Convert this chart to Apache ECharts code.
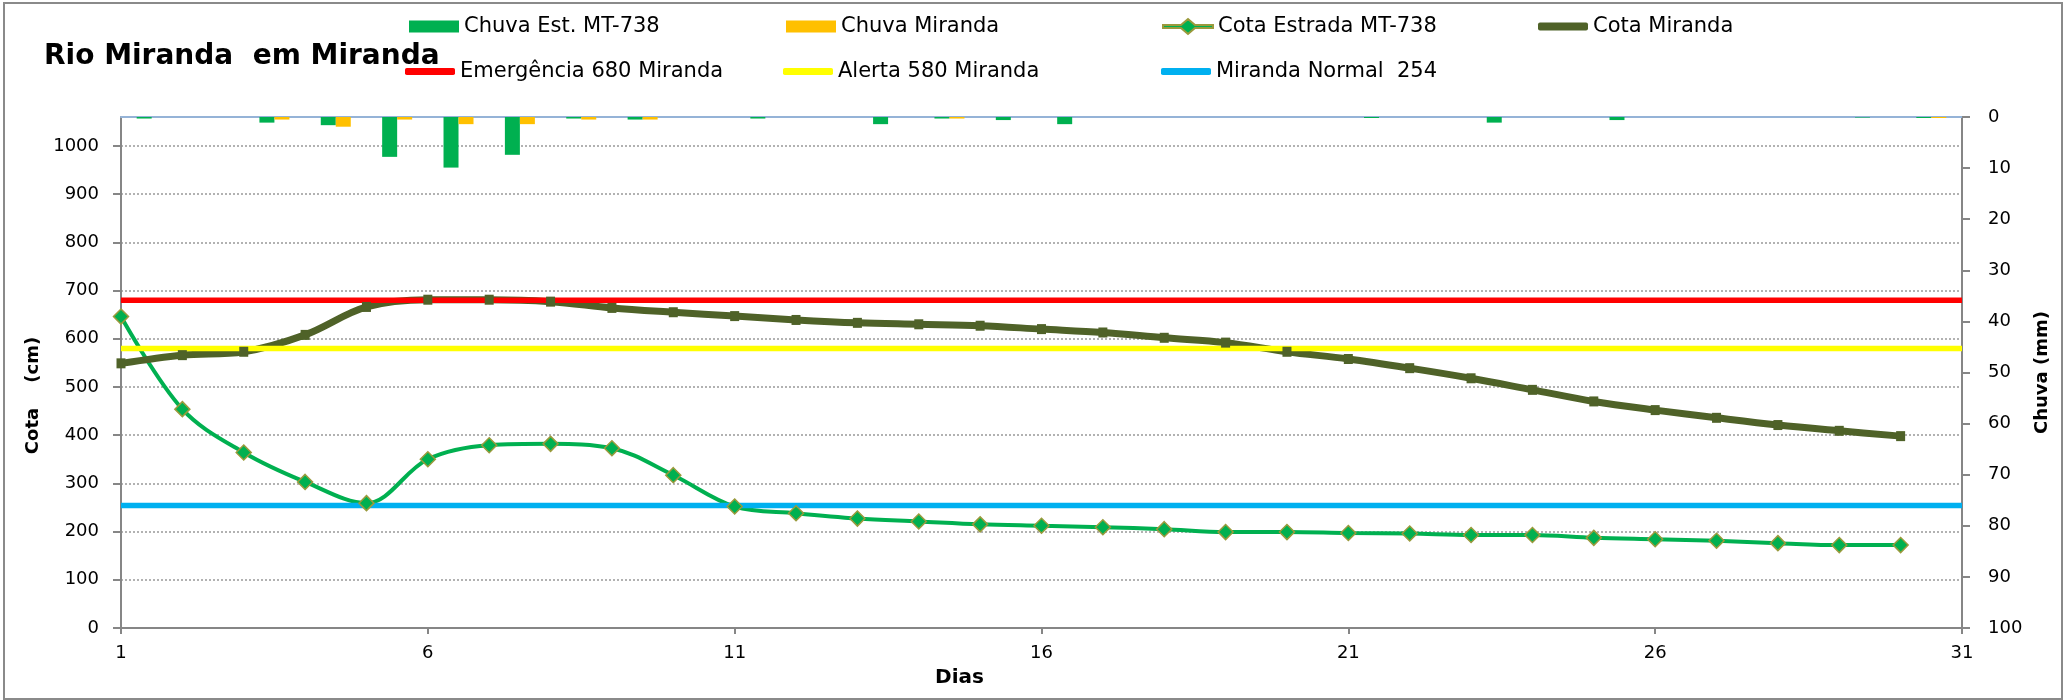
<!DOCTYPE html>
<html>
<head>
<meta charset="utf-8">
<script src="https://cdn.jsdelivr.net/npm/echarts@6/dist/echarts.min.js"></script>
<style>html,body{margin:0;padding:0;background:#fff}#c{width:2067px;height:700px}</style>
</head>
<body>
<div id="c"></div>
<script>
// ---- data ----
const days = ['1','2','3','4','5','6','7','8','9','10','11','12','13','14','15','16','17','18','19','20','21','22','23','24','25','26','27','28','29','30','31'];
const rainDays = ['1','2','3','4','5','6','7','8','9','10','11','12','13','14','15','16','17','18','19','20','21','22','23','24','25','26','27','28','29','30'];
const chuvaEstMT738 = [0.3,0,1.1,1.6,7.8,9.9,7.4,0.3,0.5,0,0.3,0,1.4,0.3,0.6,1.4,0,0,0,0,0.2,0,1.1,0,0.6,0,0,0,0.1,0.2];
const chuvaMiranda  = [0,0,0.5,1.9,0.5,1.4,1.4,0.5,0.5,0,0,0,0,0.3,0,0,0,0,0,0,0,0,0,0,0,0,0,0,0,0.2];
const cotaEstradaMT738 = [646,454,364,303,259,350,379,382,373,317,252,238,227,221,215,212,209,205,199,199,197,196,193,193,187,184,181,176,172,172];
const cotaMiranda = [549,566,573,608,666,681,681,677,664,655,647,639,633,630,627,620,613,602,592,573,558,539,518,494,470,452,436,421,409,398];
const emergencia = [[0,680],[30,680]];
const alerta = [[0,580],[30,580]];
const normal = [[0,254],[30,254]];

const FF = 'DejaVu Sans';
const chart = echarts.init(document.getElementById('c'), null, {renderer:'canvas'});

function lg(name, left, top, extra){
  return Object.assign({data:[name], left:left, top:top, itemWidth:50, itemHeight:14,
    textStyle:{fontFamily:FF, fontSize:21, color:'#000'}, padding:0, selectedMode:false, itemGap:4}, extra||{});
}
const diamondLineIcon = 'path://M0,6L18,6L25,0L32,6L50,6L50,9L32,9L25,15L18,9L0,9Z';
const thickLineIcon = 'roundRect';

chart.setOption({
  animation:false,
  backgroundColor:'#fff',
  title:{text:'Rio Miranda  em Miranda', left:39, top:38,
    textStyle:{fontFamily:FF, fontSize:28, fontWeight:'bold', color:'#000'}},
  legend:[
    lg('Chuva Est. MT-738', 409, 16, {icon:'rect', itemHeight:12}),
    lg('Chuva Miranda', 786, 16, {icon:'rect', itemHeight:12}),
    lg('Cota Estrada MT-738', 1162, 16, {icon:diamondLineIcon, itemHeight:15}),
    lg('Cota Miranda', 1538, 16, {icon:thickLineIcon, itemHeight:8}),
    lg('Emergência 680 Miranda', 405, 61, {icon:thickLineIcon, itemHeight:7}),
    lg('Alerta 580 Miranda', 783, 61, {icon:thickLineIcon, itemHeight:7}),
    lg('Miranda Normal  254', 1161, 61, {icon:thickLineIcon, itemHeight:7})
  ],
  graphic:[{type:'rect', shape:{x:4,y:3,width:2058,height:696}, style:{fill:'none', stroke:'#8a8a8a', lineWidth:2}, silent:true}],
  grid:{left:121, right:105, top:117, bottom:72, containLabel:false},
  xAxis:[
    {type:'category', data:days, boundaryGap:false,
      axisLine:{onZero:false, lineStyle:{color:'#868686', width:2}},
      axisTick:{interval:4, length:6, lineStyle:{color:'#868686', width:2}},
      axisLabel:{interval:4, margin:16, fontFamily:FF, fontSize:18, color:'#000'},
      splitLine:{show:false},
      name:'Dias', nameLocation:'middle', nameGap:40,
      nameTextStyle:{fontFamily:FF, fontSize:20, fontWeight:'bold', color:'#000', padding:[0,164,0,0]}},
    {type:'category', data:rainDays, boundaryGap:true, position:'top',
      axisLine:{onZero:false, lineStyle:{color:'#95B3D7', width:2}},
      axisTick:{show:false}, axisLabel:{show:false}, splitLine:{show:false}}
  ],
  yAxis:[
    {type:'value', min:0, max:1060, interval:100, position:'left',
      axisLine:{show:true, onZero:false, lineStyle:{color:'#868686', width:2}},
      axisTick:{show:true, length:8, lineStyle:{color:'#868686', width:2}},
      axisLabel:{showMaxLabel:false, margin:22, fontFamily:FF, fontSize:18, color:'#000',
        formatter:function(v){return String(v);}},
      splitLine:{show:true, lineStyle:{color:'#999', type:[2,2], width:1.5}},
      name:'Cota    (cm)', nameLocation:'middle', nameGap:68, nameRotate:90,
      nameTextStyle:{fontFamily:FF, fontSize:18, fontWeight:'bold', color:'#000', padding:[0,46,0,0]}},
    {type:'value', min:0, max:100, interval:10, position:'right', inverse:true,
      axisLine:{show:true, onZero:false, lineStyle:{color:'#868686', width:2}},
      axisTick:{show:true, length:8, lineStyle:{color:'#868686', width:2}},
      axisLabel:{margin:26, fontFamily:FF, fontSize:18, color:'#000'},
      splitLine:{show:false},
      name:'Chuva (mm)', nameLocation:'middle', nameGap:64, nameRotate:90,
      nameTextStyle:{fontFamily:FF, fontSize:18, fontWeight:'bold', color:'#000'}}
  ],
  series:[
    {name:'Chuva Est. MT-738', type:'bar', xAxisIndex:1, yAxisIndex:1, data:chuvaEstMT738,
      barWidth:15, barGap:'0%', itemStyle:{color:'#00B050'}},
    {name:'Chuva Miranda', type:'bar', xAxisIndex:1, yAxisIndex:1, data:chuvaMiranda,
      barWidth:15, barGap:'0%', itemStyle:{color:'#FFC000'}},
    {name:'Cota Estrada MT-738', type:'line', xAxisIndex:0, yAxisIndex:0, data:cotaEstradaMT738,
      smooth:0.35, symbol:'diamond', symbolSize:15,
      itemStyle:{color:'#00B050', borderColor:'#9A9A3C', borderWidth:1.5},
      lineStyle:{color:'#00B050', width:4}},
    {name:'Cota Miranda', type:'line', xAxisIndex:0, yAxisIndex:0, data:cotaMiranda,
      smooth:0.35, symbol:'rect', symbolSize:[9,10],
      itemStyle:{color:'#4F6228'},
      lineStyle:{color:'#4F6228', width:7}},
    {name:'Emergência 680 Miranda', type:'line', xAxisIndex:0, yAxisIndex:0, data:emergencia,
      symbol:'none', lineStyle:{color:'#FF0000', width:5.5}, itemStyle:{color:'#FF0000'}},
    {name:'Alerta 580 Miranda', type:'line', xAxisIndex:0, yAxisIndex:0, data:alerta,
      symbol:'none', lineStyle:{color:'#FFFF00', width:5.5}, itemStyle:{color:'#FFFF00'}},
    {name:'Miranda Normal  254', type:'line', xAxisIndex:0, yAxisIndex:0, data:normal,
      symbol:'none', lineStyle:{color:'#00B0F0', width:5.5}, itemStyle:{color:'#00B0F0'}}
  ]
});
</script>
</body>
</html>
